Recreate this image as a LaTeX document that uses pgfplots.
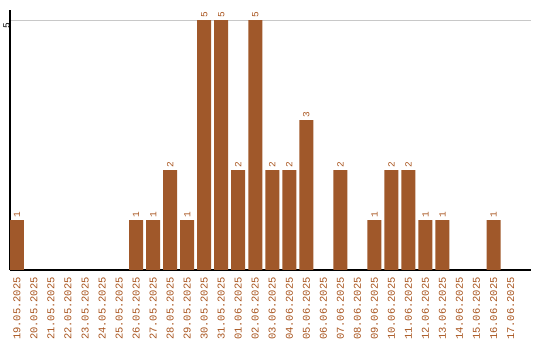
\documentclass[border=0pt]{standalone}
\usepackage{pgfplots}
\pgfplotsset{compat=1.18}
\usepackage{fontspec}
\setmainfont{Liberation Sans}
\newfontfamily\monof{Liberation Mono}
\definecolor{barc}{RGB}{160,88,42}
\definecolor{labc}{RGB}{168,84,30}
\begin{document}
\begin{tikzpicture}
\useasboundingbox (0,0) rectangle (540bp,340bp);
\begin{axis}[
  /pgf/number format/assume math mode=true,
  at={(10bp,70bp)}, anchor=south west,
  scale only axis, width=521bp, height=260bp,
  xmin=-0.41, xmax=30.2, ymin=0, ymax=5.2,
  axis x line*=bottom, axis y line*=left,
  axis line style={black, line width=1.2pt},
  ytick={5},
  yticklabel style={rotate=90, anchor=south east, inner sep=0pt, xshift=-3bp, font=\monof\fontsize{9.5}{10}\selectfont, text=black},
  major tick length=0pt,
  ymajorgrids, grid style={draw={rgb,255:red,200;green,200;blue,200}, line width=0.8pt},
  xtick={0,...,29},
  xticklabels={19.05.2025,20.05.2025,21.05.2025,22.05.2025,23.05.2025,24.05.2025,25.05.2025,26.05.2025,27.05.2025,28.05.2025,29.05.2025,30.05.2025,31.05.2025,01.06.2025,02.06.2025,03.06.2025,04.06.2025,05.06.2025,06.06.2025,07.06.2025,08.06.2025,09.06.2025,10.06.2025,11.06.2025,12.06.2025,13.06.2025,14.06.2025,15.06.2025,16.06.2025,17.06.2025},
  xticklabel shift=7bp,
  xticklabel style={rotate=90, anchor=east, inner sep=0pt, font=\monof\fontsize{10.5}{11}\selectfont, text=labc},
  bar width=14bp,
  nodes near coords,
  every node near coord/.append style={rotate=90, anchor=west, inner sep=2bp, font=\monof\fontsize{9.5}{10}\selectfont, text=labc},
]
\addplot[ybar, fill=barc, draw=none] coordinates {
(0,1) (7,1) (8,1) (9,2) (10,1) (11,5) (12,5) (13,2) (14,5) (15,2) (16,2) (17,3)
(19,2) (21,1) (22,2) (23,2) (24,1) (25,1) (28,1)
};
\end{axis}
\end{tikzpicture}
\end{document}
